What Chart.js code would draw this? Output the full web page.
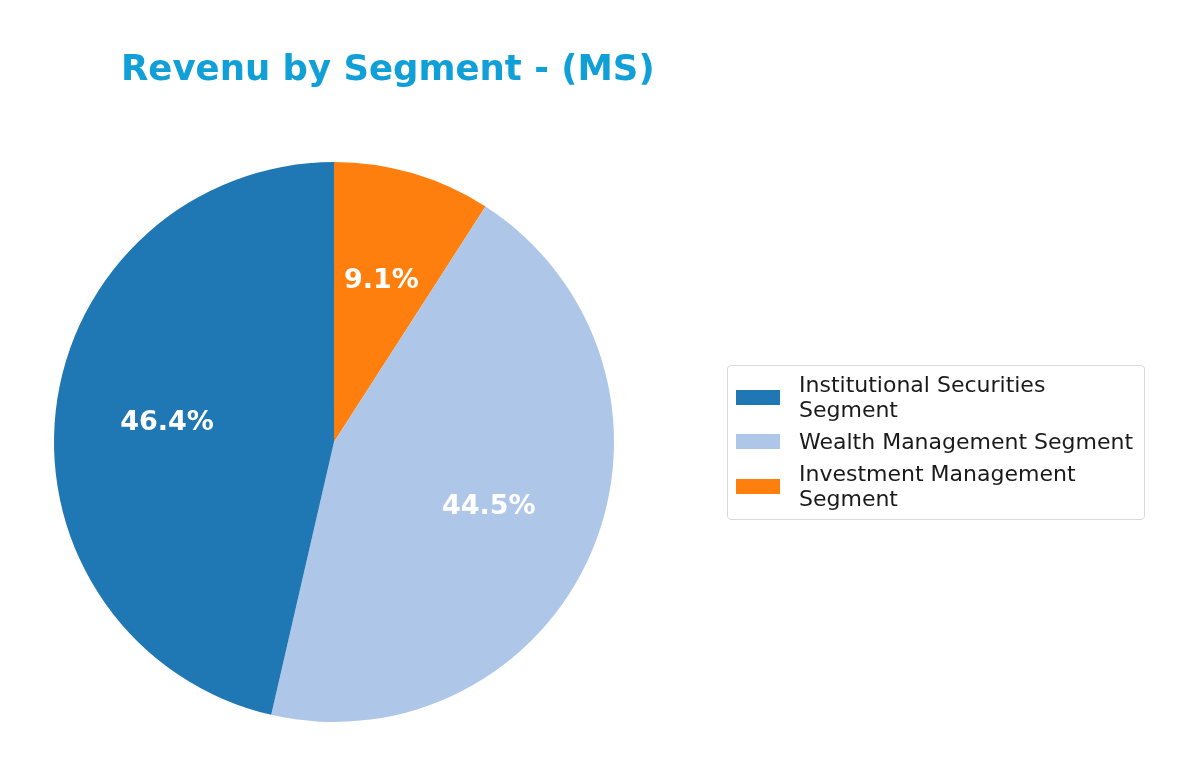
<!DOCTYPE html>
<html>
<head>
<meta charset="utf-8">
<script src="https://cdn.jsdelivr.net/npm/chart.js@4.4.0/dist/chart.umd.min.js"></script>
<style>
  html, body { margin: 0; padding: 0; background: #fff; }
  #wrap { position: relative; width: 1200px; height: 777px; font-family: "DejaVu Sans", sans-serif; }
  #title { position: absolute; left: 121px; top: 47px; font-size: 35.5px; font-weight: bold; color: #109fd7; white-space: nowrap; }
  #legend { position: absolute; left: 727px; top: 365px; width: 418px; height: 155px; border: 1px solid #d9d9d9; border-radius: 4px; box-sizing: border-box; padding: 6px 0 0 8px; }
  .item { display: flex; align-items: center; margin-bottom: 7px; }
  .sw { width: 44px; height: 15px; margin-right: 19px; flex: none; }
  .txt { font-size: 22px; line-height: 25px; color: #1a1a1a; white-space: nowrap; }
</style>
</head>
<body>
<div id="wrap">
  <div id="title">Revenu by Segment - (MS)</div>
  <canvas id="pieChart" width="1200" height="777"></canvas>
  <div id="legend"></div>
</div>
<script>
var segments = ["Institutional Securities\nSegment", "Wealth Management Segment", "Investment Management\nSegment"];
var shares = [46.4, 44.5, 9.1];
var colors = ['#1f77b4', '#aec7e8', '#ff7f0e'];

// legend built from the same arrays, in the original order
var legend = document.getElementById('legend');
for (var i = 0; i < segments.length; i++) {
    var item = document.createElement('div');
    item.className = 'item';
    var sw = document.createElement('div');
    sw.className = 'sw';
    sw.style.background = colors[i];
    var txt = document.createElement('div');
    txt.className = 'txt';
    txt.innerHTML = segments[i].replace('\n', '<br>');
    item.appendChild(sw);
    item.appendChild(txt);
    legend.appendChild(item);
}

var total = shares.reduce(function (a, b) { return a + b; }, 0);

// matplotlib goes counter-clockwise from the top, Chart.js clockwise -> feed the slices reversed
var pieLabels = segments.slice().reverse();
var pieData = shares.slice().reverse();
var pieColors = colors.slice().reverse();

// percent labels at 0.6 of the radius, like matplotlib autopct
var pctLabels = {
    id: 'pctLabels',
    afterDatasetsDraw: function (chart) {
        var c = chart.ctx;
        var meta = chart.getDatasetMeta(0);
        c.save();
        c.fillStyle = '#ffffff';
        c.font = 'bold 27px "DejaVu Sans"';
        c.textAlign = 'center';
        c.textBaseline = 'middle';
        meta.data.forEach(function (arc, idx) {
            var p = arc.getProps(['x', 'y', 'startAngle', 'endAngle', 'outerRadius'], true);
            var mid = (p.startAngle + p.endAngle) / 2;
            var r = p.outerRadius * 0.6;
            var v = chart.data.datasets[0].data[idx];
            c.fillText((v / total * 100).toFixed(1) + '%', p.x + Math.cos(mid) * r, p.y + Math.sin(mid) * r);
        });
        c.restore();
    }
};

var ctx = document.getElementById('pieChart').getContext('2d');
var myPieChart = new Chart(ctx, {
    type: 'pie',
    data: {
        labels: pieLabels,
        datasets: [{
            data: pieData,
            backgroundColor: pieColors,
            borderWidth: 0
        }]
    },
    options: {
        responsive: false,
        animation: false,
        layout: { padding: { left: 54, right: 586, top: 162, bottom: 55 } },
        plugins: {
            legend: { display: false },
            tooltip: { enabled: false }
        }
    },
    plugins: [pctLabels]
});
</script>
</body>
</html>
